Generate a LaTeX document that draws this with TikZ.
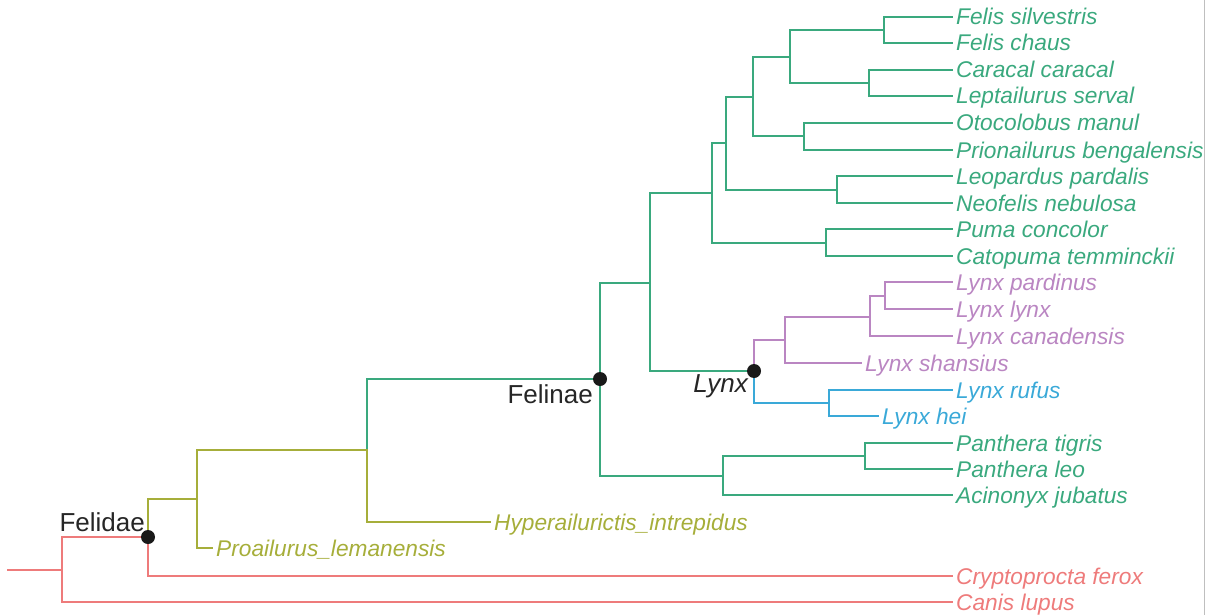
\documentclass[tikz,border=0pt]{standalone}
\usepackage{fontspec}
\setmainfont{Liberation Sans}
\definecolor{gr}{HTML}{3AA97E}
\definecolor{yl}{HTML}{A6AE3A}
\definecolor{rd}{HTML}{EE7B7B}
\definecolor{pu}{HTML}{BA86C2}
\definecolor{bl}{HTML}{3AA9D8}
\begin{document}
\begin{tikzpicture}[x=1pt,y=-1pt,
  br/.style={line width=2.1pt, line cap=rect},
  tip/.style={anchor=west, inner xsep=4pt, inner ysep=0pt, text height=16pt, text depth=0pt, font=\fontsize{22.7}{27}\selectfont\itshape},
  clade/.style={font=\fontsize{26}{31}\selectfont, text=black!85, inner sep=0pt},
  dot/.style={circle, fill=black!90, minimum size=14pt, inner sep=0pt}]
\useasboundingbox (0,0) rectangle (1206,615);
\draw[black!25, line width=0.8pt] (1204.5,0) -- (1204.5,615);

% tips
\node[tip, text=gr] (t1) at (952,17) {Felis silvestris};
\node[tip, text=gr] (t2) at (952,43) {Felis chaus};
\node[tip, text=gr] (t3) at (952,70) {Caracal caracal};
\node[tip, text=gr] (t4) at (952,96) {Leptailurus serval};
\node[tip, text=gr] (t5) at (952,123) {Otocolobus manul};
\node[tip, text=gr] (t6) at (952,150) {Prionailurus bengalensis};
\node[tip, text=gr] (t7) at (952,176) {Leopardus pardalis};
\node[tip, text=gr] (t8) at (952,203) {Neofelis nebulosa};
\node[tip, text=gr] (t9) at (952,229) {Puma concolor};
\node[tip, text=gr] (t10) at (952,256) {Catopuma temminckii};
\node[tip, text=pu] (t11) at (952,282) {Lynx pardinus};
\node[tip, text=pu] (t12) at (952,309) {Lynx lynx};
\node[tip, text=pu] (t13) at (952,336) {Lynx canadensis};
\node[tip, text=pu] (t14) at (861,363) {Lynx shansius};
\node[tip, text=bl] (t15) at (952,390) {Lynx rufus};
\node[tip, text=bl] (t16) at (878,416) {Lynx hei};
\node[tip, text=gr] (t17) at (952,443) {Panthera tigris};
\node[tip, text=gr] (t18) at (952,469) {Panthera leo};
\node[tip, text=gr] (t19) at (952,495) {Acinonyx jubatus};
\node[tip, text=yl] (t20) at (490,522) {Hyperailurictis\_intrepidus};
\node[tip, text=yl] (t21) at (212,548) {Proailurus\_lemanensis};
\node[tip, text=rd] (t22) at (952,576) {Cryptoprocta ferox};
\node[tip, text=rd] (t23) at (952,602) {Canis lupus};

% internal nodes
\coordinate (n1) at (884,30);
\coordinate (n2) at (869,83);
\coordinate (n3) at (790,57);
\coordinate (n4) at (804,136);
\coordinate (n5) at (753,97);
\coordinate (n6) at (837,190);
\coordinate (n7) at (726,143);
\coordinate (n8) at (826,243);
\coordinate (n9) at (712,193);
\coordinate (n10) at (650,283);
\coordinate (lynx) at (754,371);
\coordinate (ly1) at (885,296);
\coordinate (ly2) at (870,317);
\coordinate (ly3) at (785,340);
\coordinate (lb) at (829,403);
\coordinate (p1) at (865,456);
\coordinate (p2) at (723,476);
\coordinate (felinae) at (600,379);
\coordinate (h1) at (367,450);
\coordinate (h2) at (197,499);
\coordinate (felidae) at (148,537);
\coordinate (root) at (62,570);
\coordinate (stem) at (8,570);

% green branches
\draw[br, gr] (n1) |- (t1.west) (n1) |- (t2.west);
\draw[br, gr] (n2) |- (t3.west) (n2) |- (t4.west);
\draw[br, gr] (n3) |- (n1) (n3) |- (n2);
\draw[br, gr] (n4) |- (t5.west) (n4) |- (t6.west);
\draw[br, gr] (n5) |- (n3) (n5) |- (n4);
\draw[br, gr] (n6) |- (t7.west) (n6) |- (t8.west);
\draw[br, gr] (n7) |- (n5) (n7) |- (n6);
\draw[br, gr] (n8) |- (t9.west) (n8) |- (t10.west);
\draw[br, gr] (n9) |- (n7) (n9) |- (n8);
\draw[br, gr] (n10) |- (n9) (n10) |- (lynx);
\draw[br, gr] (p1) |- (t17.west) (p1) |- (t18.west);
\draw[br, gr] (p2) |- (p1) (p2) |- (t19.west);
\draw[br, gr] (felinae) |- (n10) (felinae) |- (p2);
\draw[br, gr] (h1) |- (felinae);
% purple
\draw[br, pu] (ly1) |- (t11.west) (ly1) |- (t12.west);
\draw[br, pu] (ly2) |- (ly1) (ly2) |- (t13.west);
\draw[br, pu] (ly3) |- (ly2) (ly3) |- (t14.west);
\draw[br, pu] (lynx) |- (ly3);
% blue
\draw[br, bl] (lb) |- (t15.west) (lb) |- (t16.west);
\draw[br, bl] (lynx) |- (lb);
% yellow-green
\draw[br, yl] (h1) |- (t20.west);
\draw[br, yl] (h2) |- (h1) (h2) |- (t21.west);
\draw[br, yl] (felidae) |- (h2);
% red
\draw[br, rd] (felidae) |- (t22.west);
\draw[br, rd] (root) |- (felidae) (root) |- (t23.west);
\draw[br, rd] (stem) -- (root);

% dots
\node[dot] (dfelidae) at (felidae) {};
\node[dot] (dfelinae) at (felinae) {};
\node[dot] (dlynx) at (lynx) {};

% clade labels
\node[clade, anchor=base east] (lfelidae) at (145,531) {Felidae};
\node[clade, anchor=base east] (lfelinae) at (593,403) {Felinae};
\node[clade, anchor=base east, font=\fontsize{26}{31}\selectfont\itshape] (llynx) at (748,392) {Lynx};
\end{tikzpicture}
\end{document}
